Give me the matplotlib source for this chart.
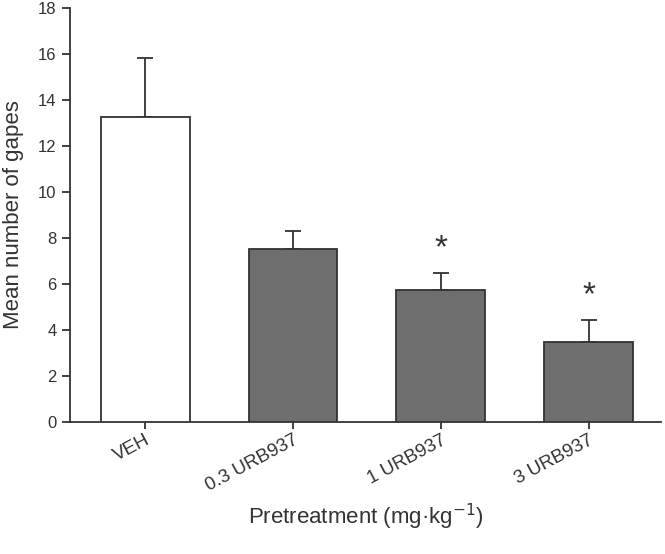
import matplotlib.pyplot as plt

plt.rcParams['font.family'] = ['Liberation Sans', 'DejaVu Sans']

groups = ["VEH", "0.3 URB937", "1 URB937", "3 URB937"]
means = [13.25, 7.5, 5.75, 3.5]
sems = [2.55, 0.8, 0.75, 0.95]
colors = ["white", "#6e6e6e", "#6e6e6e", "#6e6e6e"]
stars = ["", "", "*", "*"]

txt = "#333333"
fig = plt.figure(figsize=(6.65, 5.54), dpi=100)
ax = fig.add_axes([0.105, 0.238, 0.889, 0.748])

pos = range(len(groups))
ax.bar(pos, means, width=0.6, color=colors, edgecolor=txt, linewidth=1.3, zorder=3)
ax.errorbar(pos, means, yerr=[[0]*len(sems), sems], fmt="none", ecolor=txt,
            elinewidth=1.3, capsize=6, capthick=1.3, zorder=2)
for i in pos:
    if stars[i]:
        ax.text(i, means[i] + sems[i] + 0.35, stars[i], ha="center", va="bottom",
                fontsize=24, color=txt)

ax.set_xlim(-0.51, 3.49)
ax.set_ylim(0, 18)
ax.set_yticks(range(0, 19, 2))
ax.set_xticks(list(pos))
ax.set_xticklabels(groups, rotation=28, ha="right", rotation_mode="anchor", fontsize=13.5, color=txt)
ax.tick_params(axis="y", labelsize=12, labelcolor=txt, color=txt, length=6, width=1.3, direction="out")
ax.tick_params(axis="x", color=txt, length=5, width=1.3, direction="out", pad=2)
for s in ["top", "right"]:
    ax.spines[s].set_visible(False)
for s in ["left", "bottom"]:
    ax.spines[s].set_color(txt)
    ax.spines[s].set_linewidth(1.3)

ax.set_ylabel("Mean number of gapes", fontsize=16, color=txt, labelpad=10)
ax.set_xlabel("Pretreatment (mg·kg$^{-1}$)", fontsize=16, color=txt, labelpad=5)

fig.savefig("out.png", dpi=100)
